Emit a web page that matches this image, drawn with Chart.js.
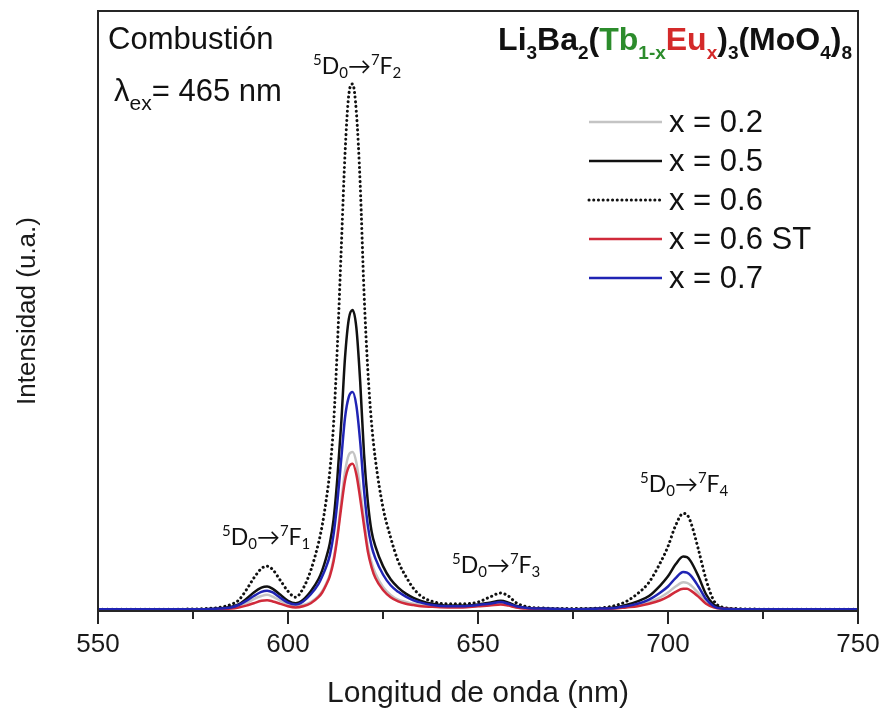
<!DOCTYPE html>
<html>
<head>
<meta charset="utf-8">
<script src="https://cdn.jsdelivr.net/npm/chart.js@4.4.1/dist/chart.umd.min.js"></script>
<style>
    html, body { margin: 0; padding: 0; background: #fff; }
    #wrap { width: 880px; height: 709px; }
</style>
</head>
<body>
<div id="wrap"><canvas id="spectraChart"></canvas></div>
<script>
// emission spectra, lambda_ex = 465 nm (arb. units)
const wavelengths = [550, 570, 578, 582, 585, 587, 589, 591, 593, 594.5,
    596, 598, 600, 602, 604, 606, 608, 609, 610, 611,
    612, 613, 614, 615, 616, 617, 618, 619, 620, 621,
    622, 623, 625, 627, 629, 631, 633, 635, 638, 642,
    646, 650, 653, 656, 658, 660, 663, 667, 675, 682,
    686, 689, 692, 695, 698, 700, 702, 704, 705, 706,
    708, 710, 712, 714, 718, 730, 750];

const x02 = [0, 0, 0, 0.001, 0.002, 0.005, 0.01, 0.017, 0.022, 0.024,
    0.021, 0.014, 0.008, 0.005, 0.007, 0.012, 0.022, 0.03, 0.042, 0.058,
    0.085, 0.125, 0.18, 0.23, 0.258, 0.263, 0.245, 0.2, 0.15, 0.105,
    0.078, 0.06, 0.037, 0.024, 0.016, 0.012, 0.009, 0.007, 0.005, 0.004,
    0.004, 0.006, 0.008, 0.01, 0.008, 0.004, 0.001, 0, 0, 0.001,
    0.002, 0.004, 0.007, 0.012, 0.02, 0.028, 0.038, 0.045, 0.044, 0.04,
    0.027, 0.012, 0.004, 0.001, 0, 0, 0];

const x05 = [0, 0, 0, 0.001, 0.004, 0.008, 0.017, 0.028, 0.036, 0.038,
    0.034, 0.024, 0.014, 0.01, 0.016, 0.03, 0.05, 0.065, 0.085, 0.11,
    0.15, 0.22, 0.31, 0.42, 0.485, 0.5, 0.47, 0.38, 0.26, 0.18,
    0.13, 0.105, 0.072, 0.05, 0.036, 0.026, 0.019, 0.014, 0.009, 0.006,
    0.006, 0.008, 0.011, 0.014, 0.011, 0.006, 0.002, 0.001, 0, 0.001,
    0.003, 0.007, 0.013, 0.022, 0.04, 0.055, 0.075, 0.088, 0.087, 0.08,
    0.055, 0.025, 0.008, 0.002, 0, 0, 0];

const x06 = [0, 0, 0.001, 0.003, 0.008, 0.015, 0.032, 0.052, 0.068, 0.072,
    0.066, 0.048, 0.03, 0.02, 0.035, 0.065, 0.11, 0.14, 0.18, 0.23,
    0.31, 0.44, 0.6, 0.76, 0.86, 0.878, 0.83, 0.71, 0.53, 0.4,
    0.31, 0.25, 0.17, 0.12, 0.08, 0.055, 0.035, 0.022, 0.013, 0.009,
    0.009, 0.012, 0.02, 0.027, 0.022, 0.011, 0.004, 0.002, 0.001, 0.002,
    0.006, 0.013, 0.026, 0.045, 0.078, 0.105, 0.14, 0.16, 0.158, 0.145,
    0.1, 0.05, 0.015, 0.004, 0.001, 0, 0];

const x06st = [0, 0, 0, 0, 0.001, 0.003, 0.006, 0.01, 0.014, 0.015,
    0.013, 0.009, 0.005, 0.003, 0.005, 0.01, 0.02, 0.028, 0.04, 0.055,
    0.08, 0.12, 0.17, 0.215, 0.238, 0.243, 0.225, 0.185, 0.14, 0.097,
    0.07, 0.052, 0.032, 0.02, 0.013, 0.009, 0.007, 0.005, 0.004, 0.003,
    0.003, 0.005, 0.006, 0.008, 0.006, 0.003, 0.001, 0, 0, 0,
    0.001, 0.003, 0.005, 0.009, 0.015, 0.021, 0.029, 0.034, 0.034, 0.031,
    0.021, 0.009, 0.003, 0.001, 0, 0, 0];

const x07 = [0, 0, 0, 0.001, 0.003, 0.007, 0.014, 0.022, 0.029, 0.031,
    0.028, 0.019, 0.011, 0.008, 0.013, 0.025, 0.042, 0.055, 0.07, 0.09,
    0.125, 0.18, 0.25, 0.32, 0.355, 0.363, 0.34, 0.28, 0.2, 0.14,
    0.105, 0.085, 0.058, 0.04, 0.029, 0.021, 0.015, 0.011, 0.007, 0.005,
    0.005, 0.007, 0.009, 0.012, 0.009, 0.005, 0.002, 0.001, 0, 0.001,
    0.002, 0.005, 0.009, 0.016, 0.028, 0.038, 0.052, 0.062, 0.061, 0.056,
    0.038, 0.017, 0.005, 0.001, 0, 0, 0];

const seriesLabels = ['x = 0.2', 'x = 0.5', 'x = 0.6', 'x = 0.6 ST', 'x = 0.7'];
const majorTicks = [550, 600, 650, 700, 750];
const minorTicks = [575, 625, 675, 725];
const transitions = ['1', '2', '3', '4'];   // 5D0 -> 7FJ

const toPoints = ys => ys.map((y, i) => ({ x: wavelengths[i], y: y }));

const BASE = '"Liberation Sans", Arial, sans-serif';
const PEAK_FONT = 'Lato, "Open Sans", sans-serif';

// draws a run of text pieces: [text, 'n' | 'sup' | 'sub', colour]
function drawRich(ctx, parts, x, y, opt) {
    const big = opt.size, small = opt.small;
    const weight = opt.bold ? 'bold ' : '';
    const fontFor = kind => weight + (kind === 'n' ? big : small) + 'px ' + opt.family;
    let total = 0;
    parts.forEach(p => { ctx.font = fontFor(p[1]); total += ctx.measureText(p[0]).width; });
    let cx = opt.align === 'right' ? x - total : x;
    ctx.textBaseline = 'alphabetic';
    ctx.textAlign = 'left';
    parts.forEach(p => {
        ctx.font = fontFor(p[1]);
        ctx.fillStyle = p[2] || '#111';
        const dy = p[1] === 'sup' ? -opt.supDy : (p[1] === 'sub' ? opt.subDy : 0);
        ctx.fillText(p[0], cx, y + dy);
        cx += ctx.measureText(p[0]).width;
    });
}

const decorations = {
    id: 'decorations',
    afterDraw(chart) {
        const { ctx, chartArea: a, scales } = chart;
        ctx.save();

        // minor ticks + frame
        ctx.strokeStyle = '#262626';
        ctx.lineWidth = 2;
        minorTicks.forEach(v => {
            const px = scales.x.getPixelForValue(v);
            ctx.beginPath();
            ctx.moveTo(px, a.bottom);
            ctx.lineTo(px, a.bottom + 8);
            ctx.stroke();
        });
        ctx.strokeRect(a.left, a.top, a.right - a.left, a.bottom - a.top);

        // top-left notes
        ctx.fillStyle = '#111';
        ctx.font = '31px ' + BASE;
        ctx.textBaseline = 'alphabetic';
        ctx.fillText('Combustión', 108, 49);
        drawRich(ctx, [['λ', 'n'], ['ex', 'sub'], ['= 465 nm', 'n']], 114, 101,
            { size: 31, small: 21, family: BASE, supDy: 0, subDy: 9 });

        // compound formula
        const green = '#2c8c2c', red = '#d42a2a';
        drawRich(ctx, [
            ['Li', 'n'], ['3', 'sub'], ['Ba', 'n'], ['2', 'sub'], ['(', 'n'],
            ['Tb', 'n', green], ['1-x', 'sub', green], ['Eu', 'n', red], ['x', 'sub', red],
            [')', 'n'], ['3', 'sub'], ['(MoO', 'n'], ['4', 'sub'], [')', 'n'], ['8', 'sub']
        ], 852, 50, { size: 32, small: 19, family: BASE, bold: true, supDy: 0, subDy: 9, align: 'right' });

        // transition labels
        const spots = [[222, 545], [313, 74], [452, 573], [640, 492]];
        transitions.forEach((j, i) => {
            drawRich(ctx, [['5', 'sup'], ['D', 'n'], ['0', 'sub'], ['→', 'n'], ['7', 'sup'], ['F', 'n'], [j, 'sub']],
                spots[i][0], spots[i][1], { size: 23, small: 15, family: PEAK_FONT, supDy: 9, subDy: 4 });
        });

        // legend
        const rows = [122, 161, 200, 239, 278];
        chart.data.datasets.forEach((ds, i) => {
            ctx.beginPath();
            ctx.strokeStyle = ds.borderColor;
            ctx.lineWidth = ds.borderWidth;
            ctx.lineCap = ds.borderCapStyle || 'butt';
            ctx.setLineDash(ds.borderDash || []);
            ctx.moveTo(589, rows[i]);
            ctx.lineTo(662, rows[i]);
            ctx.stroke();
            ctx.setLineDash([]);
            ctx.fillStyle = '#111';
            ctx.font = '31px ' + BASE;
            ctx.textBaseline = 'middle';
            ctx.fillText(ds.label, 669, rows[i] + 1);
        });
        ctx.restore();
    }
};

const line = (label, ys, color, extra) => Object.assign({
    label: label,
    data: toPoints(ys),
    borderColor: color,
    backgroundColor: 'transparent',
    borderWidth: 2.5,
    pointRadius: 0,
    cubicInterpolationMode: 'monotone',
}, extra || {});

new Chart(document.getElementById('spectraChart'), {
    type: 'line',
    data: {
        datasets: [
            line(seriesLabels[0], x02, '#c4c4c4', { order: 4 }),
            line(seriesLabels[1], x05, '#111111', { order: 3 }),
            line(seriesLabels[2], x06, '#111111', { order: 2, borderWidth: 3, borderDash: [0.1, 4.6], borderCapStyle: 'round' }),
            line(seriesLabels[3], x06st, '#d02a3a', { order: 1 }),
            line(seriesLabels[4], x07, '#2024b4', { order: 0 }),
        ],
    },
    options: {
        responsive: true,
        maintainAspectRatio: false,
        animation: false,
        layout: { padding: { top: 11, right: 22, bottom: 0, left: 0 } },
        plugins: {
            legend: { display: false },
            tooltip: { enabled: false },
        },
        scales: {
            x: {
                type: 'linear',
                min: 550,
                max: 750,
                afterBuildTicks: s => { s.ticks = majorTicks.map(v => ({ value: v })); },
                afterFit: s => { s.height = 98; s.paddingLeft = 0; s.paddingRight = 0; },
                ticks: { color: '#1a1a1a', font: { family: BASE, size: 26 }, padding: 5 },
                grid: { drawOnChartArea: false, drawTicks: true, tickLength: 13, color: '#262626', lineWidth: 2 },
                border: { display: false },
                title: {
                    display: true,
                    text: 'Longitud de onda (nm)',
                    color: '#1a1a1a',
                    font: { family: BASE, size: 30, lineHeight: 1 },
                    padding: { top: 0, bottom: 0 },
                },
            },
            y: {
                min: -0.003,
                max: 1.0,
                afterFit: s => { s.width = 98; },
                ticks: { display: false },
                grid: { display: false },
                border: { display: false },
                title: {
                    display: true,
                    text: 'Intensidad (u.a.)',
                    color: '#1a1a1a',
                    font: { family: BASE, size: 26 },
                    padding: { top: 12, bottom: 0 },
                },
            },
        },
    },
    plugins: [decorations],
});
</script>
</body>
</html>
